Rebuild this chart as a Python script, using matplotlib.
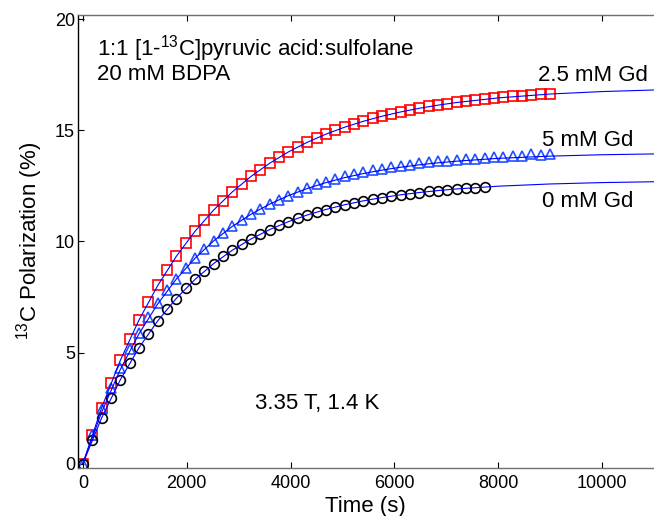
import matplotlib
matplotlib.use("Agg")
import matplotlib.pyplot as plt

plt.rcParams["font.family"] = ["Liberation Sans", "DejaVu Sans"]
plt.rcParams["mathtext.fontset"] = "custom"
plt.rcParams["mathtext.rm"] = "Liberation Sans"
plt.rcParams["mathtext.it"] = "Liberation Sans:italic"

# measured points, one every 180 s
t_gd25 = [180 * k for k in range(51)]
p_gd25 = [0.00, 1.30, 2.52, 3.62, 4.66, 5.59, 6.47, 7.26, 8.02, 8.71,
          9.33, 9.92, 10.47, 10.96, 11.43, 11.84, 12.25, 12.59, 12.94, 13.24,
          13.53, 13.80, 14.03, 14.27, 14.46, 14.66, 14.84, 15.00, 15.14, 15.29,
          15.42, 15.54, 15.63, 15.75, 15.84, 15.91, 16.00, 16.08, 16.13, 16.21,
          16.26, 16.31, 16.37, 16.41, 16.44, 16.49, 16.53, 16.55, 16.60, 16.62,
          16.65]

t_gd5 = [180 * k for k in range(51)]
p_gd5 = [0.00, 1.30, 2.45, 3.42, 4.32, 5.16, 5.90, 6.60, 7.22, 7.80,
         8.32, 8.80, 9.24, 9.65, 10.01, 10.36, 10.68, 10.97, 11.23, 11.47,
         11.69, 11.89, 12.07, 12.24, 12.40, 12.57, 12.70, 12.82, 12.93, 13.03,
         13.11, 13.20, 13.27, 13.34, 13.41, 13.46, 13.52, 13.57, 13.61, 13.64,
         13.66, 13.70, 13.73, 13.76, 13.80, 13.82, 13.85, 13.87, 13.92, 13.91,
         13.95]

t_gd0 = [180 * k for k in range(44)]
p_gd0 = [0.00, 1.05, 2.03, 2.95, 3.78, 4.52, 5.20, 5.84, 6.43, 6.95,
         7.43, 7.89, 8.29, 8.67, 9.00, 9.33, 9.60, 9.88, 10.11, 10.34,
         10.53, 10.73, 10.89, 11.05, 11.19, 11.33, 11.44, 11.56, 11.65, 11.75,
         11.82, 11.91, 11.97, 12.05, 12.10, 12.16, 12.20, 12.26, 12.29, 12.34,
         12.36, 12.41, 12.42, 12.47]

# fitted build-up curves
t_fit = [0, 360, 720, 1080, 1440, 1800, 2160, 2520, 2880, 3240, 3600,
         3960, 4320, 4680, 5040, 5400, 5760, 6120, 6480, 6840, 7200,
         8000, 9000, 10000, 11000]
fit_gd25 = [0, 2.506, 4.642, 6.462, 8.012, 9.334, 10.460, 11.420, 12.237, 12.934,
            13.528, 14.034, 14.465, 14.832, 15.145, 15.412, 15.640, 15.833, 15.999,
            16.139, 16.259, 16.466, 16.640, 16.751, 16.822]
fit_gd5 = [0, 2.306, 4.233, 5.842, 7.185, 8.308, 9.246, 10.029, 10.683, 11.229,
           11.686, 12.067, 12.385, 12.651, 12.874, 13.059, 13.214, 13.344, 13.452,
           13.542, 13.617, 13.744, 13.844, 13.906, 13.943]
fit_gd0 = [0, 2.049, 3.769, 5.212, 6.423, 7.440, 8.293, 9.009, 9.610, 10.115,
           10.538, 10.894, 11.192, 11.442, 11.653, 11.829, 11.977, 12.101, 12.205,
           12.293, 12.366, 12.490, 12.590, 12.652, 12.690]

x_ticks = [0, 2000, 4000, 6000, 8000, 10000]
y_ticks = [0, 5, 10, 15, 20]

fig = plt.figure(figsize=(6.54, 5.16), dpi=100)
ax = fig.add_axes([0.1188, 0.093, 0.8812, 0.878])

ax.plot(t_gd25, p_gd25, ls="none", marker="s", ms=6.5, mfc="none",
        mec="#ff0000", mew=1.2)
ax.plot(t_gd5, p_gd5, ls="none", marker="^", ms=7, mfc="none",
        mec="#2050ff", mew=1.2)
ax.plot(t_gd0, p_gd0, ls="none", marker="o", ms=7, mfc="none",
        mec="black", mew=1.2)

for fit in (fit_gd25, fit_gd5, fit_gd0):
    ax.plot(t_fit, fit, color="#0000ff", lw=0.8)

ax.set_xlim(-100, 11000)
ax.set_ylim(-0.2, 20.2)
ax.set_xticks(x_ticks)
ax.set_yticks(y_ticks)
ax.tick_params(axis="both", direction="in", labelsize=13, length=4, width=0.8)
ax.tick_params(axis="x", pad=5, top=True)
ax.tick_params(axis="y", pad=2)

ax.spines["right"].set_visible(False)
ax.spines["left"].set_color("black")
ax.spines["bottom"].set_color("#707070")
ax.spines["top"].set_color("#707070")
for s in ax.spines.values():
    s.set_linewidth(1.0)

ax.set_xlabel("Time (s)", fontsize=16, labelpad=3)
ax.set_ylabel(r"$\mathregular{^{13}}$C Polarization (%)", fontsize=16, labelpad=7)

ax.text(275, 18.38, r"1:1 [1-$\mathregular{^{13}}$C]pyruvic acid:sulfolane",
        fontsize=16, va="baseline")
ax.text(275, 17.25, "20 mM BDPA", fontsize=16, va="baseline")
ax.text(8757, 17.22, "2.5 mM Gd", fontsize=16, va="baseline")
ax.text(8852, 14.32, "5 mM Gd", fontsize=16, va="baseline")
ax.text(8852, 11.55, "0 mM Gd", fontsize=16, va="baseline")
ax.text(3313, 2.46, "3.35 T, 1.4 K", fontsize=16, va="baseline")

fig.savefig("out.png", dpi=100)
